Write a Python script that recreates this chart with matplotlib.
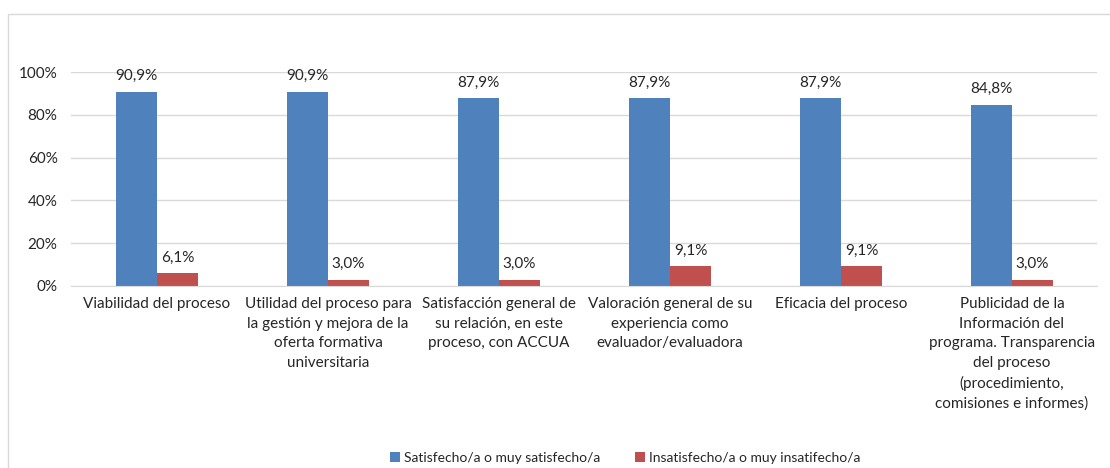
"Satisfaccion con el proceso - barras agrupadas"

import numpy as np
import matplotlib
matplotlib.use('Agg')
import matplotlib.pyplot as plt
from matplotlib.patches import Rectangle

plt.rcParams['font.family'] = ['Lato', 'DejaVu Sans']

categorias = [
    'Viabilidad del proceso',
    'Utilidad del proceso para\nla gestión y mejora de la\noferta formativa\nuniversitaria',
    'Satisfacción general de\nsu relación, en este\nproceso, con ACCUA',
    'Valoración general de su\nexperiencia como\nevaluador/evaluadora',
    'Eficacia del proceso',
    'Publicidad de la\nInformación del\nprograma. Transparencia\ndel proceso\n(procedimiento,\ncomisiones e informes)',
]
satisfecho = [0.909, 0.909, 0.879, 0.879, 0.879, 0.848]
insatisfecho = [0.061, 0.030, 0.030, 0.091, 0.091, 0.030]
series = ['Satisfecho/a o muy satisfecho/a', 'Insatisfecho/a o muy insatifecho/a']
yticks = [0, 0.2, 0.4, 0.6, 0.8, 1.0]

azul = '#4F81BD'
rojo = '#C0504D'

fig = plt.figure(figsize=(11.1, 4.68), dpi=100)
ax = fig.add_axes([0.0644, 0.389, 0.9243, 0.457])

x = np.arange(len(categorias))
w = 0.24
b1 = ax.bar(x - w / 2, satisfecho, w, color=azul, label=series[0])
b2 = ax.bar(x + w / 2, insatisfecho, w, color=rojo, label=series[1])

for bars, vals in ((b1, satisfecho), (b2, insatisfecho)):
    for r, v in zip(bars, vals):
        ax.annotate(f'{v * 100:.1f}%'.replace('.', ','),
                    (r.get_x() + r.get_width() / 2, v),
                    xytext=(0, 6), textcoords='offset points',
                    ha='center', va='bottom', fontsize=11, color='#262626')

ax.set_xlim(-0.5, len(categorias) - 0.5)
ax.set_ylim(0, 1.0)
ax.set_yticks(yticks)
ax.set_yticklabels([f'{int(round(t * 100))}%' for t in yticks])
ax.set_xticks(x)
ax.set_xticklabels(categorias, linespacing=1.5)
ax.tick_params(axis='both', length=0, labelsize=11, colors='#262626')
ax.tick_params(axis='y', pad=10)
ax.tick_params(axis='x', pad=8)
for lbl in ax.get_xticklabels():
    lbl.set_verticalalignment('top')
ax.grid(axis='y', color='#D9D9D9', linewidth=1)
ax.set_axisbelow(True)
for s in ('top', 'right', 'left'):
    ax.spines[s].set_visible(False)
ax.spines['bottom'].set_color('#D9D9D9')

fig.legend(handles=[b1, b2], labels=series, loc='center',
           bbox_to_anchor=(625 / 1110, 1 - 458 / 468), ncol=2, frameon=False,
           fontsize=10, handlelength=0.7, handleheight=0.7, handletextpad=0.3,
           columnspacing=2.5, labelcolor='#262626')

# borde del grafico
fig.patches.append(Rectangle((8 / 1110, -0.05), 1.1, 1 - 14 / 468 + 0.05,
                             transform=fig.transFigure, fill=False,
                             edgecolor='#D9D9D9', linewidth=1))

fig.savefig('out.png', dpi=100)
